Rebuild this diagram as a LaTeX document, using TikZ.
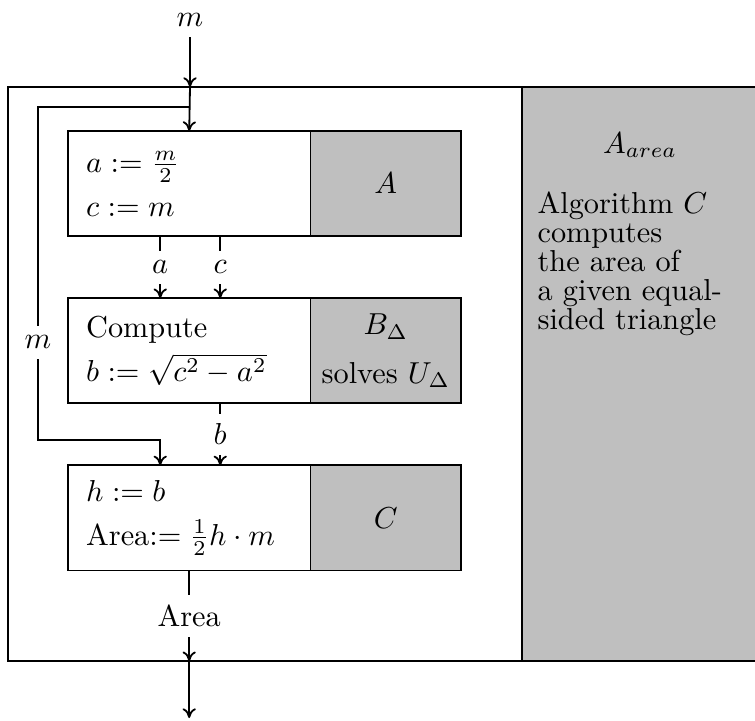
\documentclass[tikz,border=0pt]{standalone}
\usepackage{amsmath,amssymb}
\usetikzlibrary{arrows.meta,positioning}

\begin{document}
\begin{tikzpicture}[
    x=0.116mm, y=-0.116mm,
    node distance=7.19mm and 0pt,
    frame/.style={draw, line width=0.7pt, outer sep=0pt, minimum height=66.6mm, inner sep=0pt},
    calcbox/.style={draw, semithick, fill=white, outer sep=0pt, inner xsep=6pt, text width=23.9mm, minimum height=12.2mm, align=left},
    algo/.style={draw, semithick, fill=lightgray, outer sep=0pt, minimum width=17.5mm, minimum height=12.2mm, align=center},
    line/.style={-{To[length=3.2pt, width=4.4pt]}, semithick},
    lbl/.style={fill=white}
]
\useasboundingbox (0,0) rectangle (755,720);

% outer frame and side panel
\node[frame, minimum width=59.6mm, anchor=north west] (frame) at (8,87) {};
\node[frame, fill=lightgray, minimum width=27.4mm, right=0pt of frame] (panel) {};
\node (areaTitle) at (640,145) {$A_{area}$};
\node[anchor=north west, inner sep=0pt, align=left, font=\fontsize{10pt}{9.6pt}\selectfont] (areaText) at (537,191)
    {Algorithm $C$\\computes\\the area of\\a given equal-\\sided triangle};

% steps
\node[calcbox, anchor=north west] (calcA) at (68,131) {$a := \frac{m}{2}$\\[2.5pt]$c := m$};
\node[algo, right=of calcA] (algA) {$A$};
\node[calcbox, below=of calcA] (calcB) {Compute\\[2.5pt]$b := \sqrt{c^2 - a^2}$};
\node[algo, right=of calcB] (algB) {$B_\Delta$\\[4pt]solves $U_\Delta$};
\node[calcbox, below=of calcB] (calcC) {$h := b$\\[2.5pt]Area$:= \frac{1}{2}h\cdot m$};
\node[algo, right=of calcC] (algC) {$C$};

% input and output
\node (mIn) at (190,20) {$m$};
\coordinate (mSplit) at ([yshift=2.78mm]calcA.north);
\coordinate (mBend) at (38,440);
\coordinate (out) at (190,718);

\draw[line] (mIn) -- (mIn |- frame.north);
\draw[line] (mIn |- frame.north) -- (calcA.north);
\draw[line] (mSplit) -| node[lbl, pos=0.853] {$m$} (mBend) -| ([xshift=-3.36mm]calcC.north);
\draw[line] ([xshift=-3.36mm]calcA.south) -- node[lbl] {$a$} ([xshift=-3.36mm]calcB.north);
\draw[line] ([xshift=3.6mm]calcA.south) -- node[lbl] {$c$} ([xshift=3.6mm]calcB.north);
\draw[line] ([xshift=3.6mm]calcB.south) -- node[lbl] {$b$} ([xshift=3.6mm]calcC.north);
\draw[line] (calcC.south) -- node[lbl] {Area} (calcC.south |- frame.south);
\draw[line] (calcC.south |- frame.south) -- (calcC.south |- out);
\end{tikzpicture}
\end{document}
